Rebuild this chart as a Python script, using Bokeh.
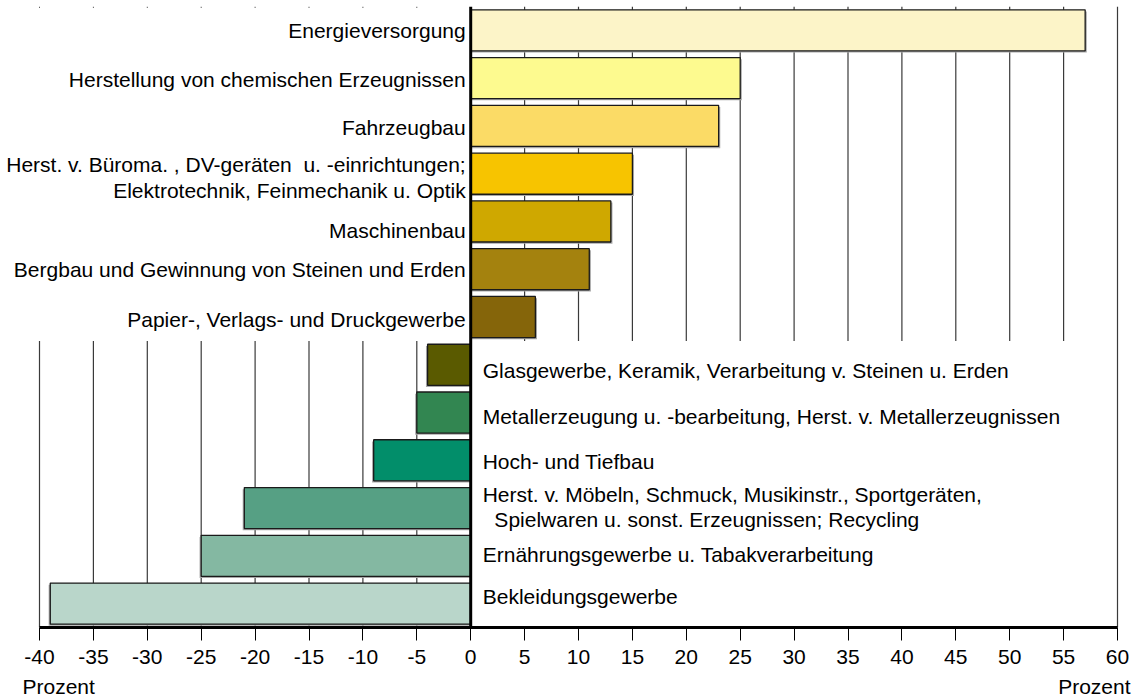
from bokeh.plotting import figure
from bokeh.layouts import column
from bokeh.models import FactorRange, Range1d, ColumnDataSource, FixedTicker, Span
from bokeh.transform import dodge
from bokeh.core.properties import value
from bokeh.embed import file_html
from bokeh.resources import INLINE

# ---------------- data ----------------
categories = [
    "Energieversorgung",
    "Herstellung von chemischen Erzeugnissen",
    "Fahrzeugbau",
    "Herst. v. Büroma. , DV-geräten  u. -einrichtungen; Elektrotechnik, Feinmechanik u. Optik",
    "Maschinenbau",
    "Bergbau und Gewinnung von Steinen und Erden",
    "Papier-, Verlags- und Druckgewerbe",
    "Glasgewerbe, Keramik, Verarbeitung v. Steinen u. Erden",
    "Metallerzeugung u. -bearbeitung, Herst. v. Metallerzeugnissen",
    "Hoch- und Tiefbau",
    "Herst. v. Möbeln, Schmuck, Musikinstr., Sportgeräten, Spielwaren u. sonst. Erzeugnissen; Recycling",
    "Ernährungsgewerbe u. Tabakverarbeitung",
    "Bekleidungsgewerbe",
]
label_text = [
    "Energieversorgung",
    "Herstellung von chemischen Erzeugnissen",
    "Fahrzeugbau",
    "Herst. v. Büroma. , DV-geräten\u00a0 u. -einrichtungen;\nElektrotechnik, Feinmechanik u. Optik",
    "Maschinenbau",
    "Bergbau und Gewinnung von Steinen und Erden",
    "Papier-, Verlags- und Druckgewerbe",
    "Glasgewerbe, Keramik, Verarbeitung v. Steinen u. Erden",
    "Metallerzeugung u. -bearbeitung, Herst. v. Metallerzeugnissen",
    "Hoch- und Tiefbau",
    "Herst. v. Möbeln, Schmuck, Musikinstr., Sportgeräten,\n\u00a0\u00a0Spielwaren u. sonst. Erzeugnissen; Recycling",
    "Ernährungsgewerbe u. Tabakverarbeitung",
    "Bekleidungsgewerbe",
]
values = [57, 25, 23, 15, 13, 11, 6, -4, -5, -9, -21, -25, -39]
colors = [
    "#FCF4C8", "#FDFA8F", "#FBDB66", "#F7C400", "#CFA800", "#A4820E", "#85650A",
    "#5A5A00", "#328651", "#028E6A", "#56A084", "#84B8A2", "#B9D6CA",
]
tick_values = [-40, -35, -30, -25, -20, -15, -10, -5, 0, 5, 10, 15, 20, 25, 30, 35, 40, 45, 50, 55, 60]
tick_labels = ["-40", "-35", "-30", "-25", "-20", "-15", "-10", "-5", "0", "5", "10",
               "15", "20", "25", "30", "35", "40", "45", "50", "55", "60"]
unit_label = "Prozent"

# ---------------- style / layout ----------------
FONT = value("Liberation Sans")
LABEL_SIZE = "21px"
label_nudge = [0, 1, 2, 4, 9, 0, 2, 6, 4, 1, -1, -1, -7]  # px, small vertical text tweaks
BAR_H = 0.86
PX = 10.78                      # pixels per percent point
X0, X1 = -40 - 39 / PX, 60 + 20 / PX
xr = Range1d(X0, X1)

p = figure(width=1137, height=674,
           x_range=xr,
           y_range=FactorRange(factors=categories[::-1]),
           output_backend="svg", toolbar_location=None,
           min_border_left=0, min_border_right=0,
           min_border_top=6, min_border_bottom=47)
p.outline_line_color = None
p.xgrid.visible = False
p.ygrid.visible = False
p.yaxis.visible = False
p.background_fill_color = "white"

top = (categories[0], 0.5)
split = (categories[6], -0.5)
bottom = (categories[-1], -0.5)

pos_x = [t for t in tick_values if 0 < t < 60]
neg_x = [t for t in tick_values if t < 0]

grid_src = ColumnDataSource(dict(
    x=pos_x + neg_x + [60],
    y0=[top] * len(pos_x) + [split] * len(neg_x) + [top],
    y1=[split] * len(pos_x) + [bottom] * len(neg_x) + [bottom],
))
p.segment(x0="x", y0="y0", x1="x", y1="y1", source=grid_src,
          line_color="#3a3a3a", line_width=1.2)

dot_src = ColumnDataSource(dict(x=neg_x, y0=[top] * len(neg_x),
                                y1=[(categories[0], 0.47)] * len(neg_x)))
p.segment(x0="x", y0="y0", x1="x", y1="y1", source=dot_src,
          line_color="#555555", line_width=1)

src = ColumnDataSource(dict(
    cat=categories, value=values, color=colors,
    shadow=[v + (0.15 if v > 0 else -0.15) for v in values],
))
p.hbar(y=dodge("cat", -0.035, range=p.y_range), left=0, right="shadow",
       height=BAR_H, source=src, fill_color="#a8a8a8", line_color=None)
p.hbar(y="cat", left=0, right="value", height=BAR_H, source=src,
       fill_color="color", line_color="#1a1a1a", line_width=1.3)

p.add_layout(Span(location=0, dimension="height", line_color="black", line_width=3))

pos_idx = [i for i, v in enumerate(values) if v >= 0]
neg_idx = [i for i, v in enumerate(values) if v < 0]
lab_pos = ColumnDataSource(dict(
    y=[categories[i] for i in pos_idx], text=[label_text[i] for i in pos_idx],
    dy=[label_nudge[i] for i in pos_idx]))
lab_neg = ColumnDataSource(dict(
    y=[categories[i] for i in neg_idx], text=[label_text[i] for i in neg_idx],
    dy=[label_nudge[i] for i in neg_idx]))
p.text(x=0, y="y", text="text", source=lab_pos, x_offset=-5, y_offset="dy",
       text_align="right", text_baseline="middle", text_font=FONT,
       text_font_size=LABEL_SIZE, text_color="black", text_line_height=1.13)
p.text(x=0, y="y", text="text", source=lab_neg, x_offset=12, y_offset="dy",
       text_align="left", text_baseline="middle", text_font=FONT,
       text_font_size=LABEL_SIZE, text_color="black", text_line_height=1.06)

ax = p.xaxis[0]
ax.bounds = (tick_values[0], tick_values[-1])
ax.ticker = FixedTicker(ticks=tick_values)
ax.major_label_overrides = dict(zip(tick_values, tick_labels))
ax.axis_line_width = 3
ax.axis_line_color = "black"
ax.major_tick_out = 13
ax.major_tick_in = 0
ax.major_tick_line_color = "black"
ax.major_tick_line_width = 1
ax.minor_tick_line_color = None
ax.major_label_standoff = 9
ax.major_label_text_font = "Liberation Sans"
ax.major_label_text_font_size = "21px"
ax.major_label_text_color = "black"

# strip below the axis that carries the two unit labels
p2 = figure(width=1137, height=22, x_range=xr, y_range=Range1d(0, 1),
            output_backend="svg", toolbar_location=None,
            x_axis_location=None, y_axis_location=None,
            min_border_left=0, min_border_right=0, min_border_top=0, min_border_bottom=0)
p2.outline_line_color = None
p2.xgrid.visible = False
p2.ygrid.visible = False
unit_src = ColumnDataSource(dict(x=[tick_values[0], tick_values[-1]], y=[1, 1],
                                 text=[unit_label, unit_label],
                                 align=["left", "right"], dx=[-17, 13]))
p2.text(x="x", y="y", text="text", source=unit_src, x_offset="dx", y_offset=0,
        text_align="align", text_baseline="top", text_font=FONT,
        text_font_size="21px", text_color="black")

layout = column(p, p2, spacing=0)
open("out.html", "w").write(file_html(layout, INLINE))
